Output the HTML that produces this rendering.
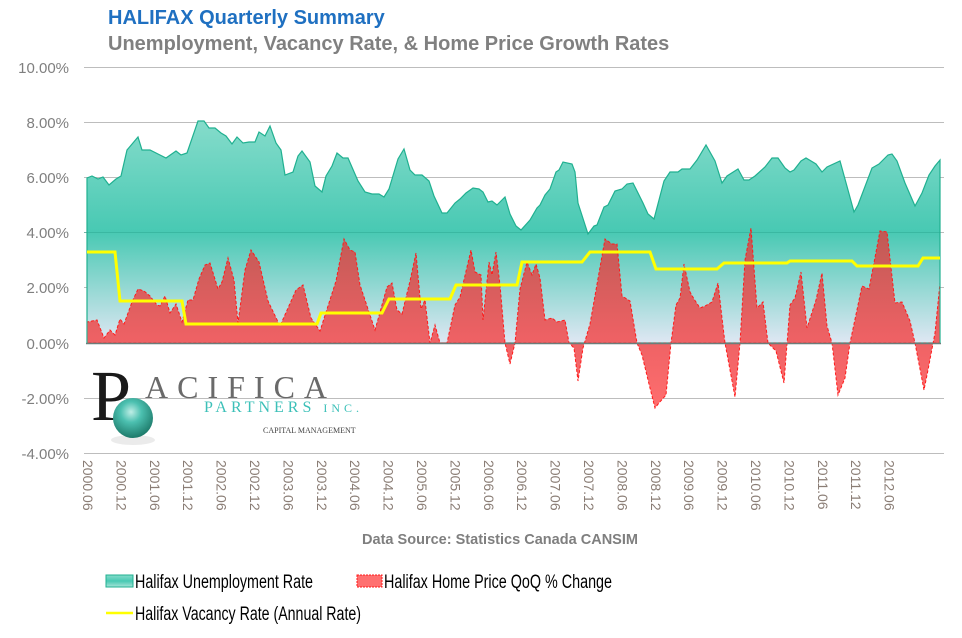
<!DOCTYPE html>
<html><head><meta charset="utf-8"><style>
html,body{margin:0;padding:0;background:#fff;}
svg{display:block;font-family:"Liberation Sans",Arial,sans-serif;}
</style></head><body>
<svg width="962" height="638" viewBox="0 0 962 638" xmlns="http://www.w3.org/2000/svg">
<defs>
<linearGradient id="gU" gradientUnits="userSpaceOnUse" x1="0" y1="120" x2="0" y2="343">
<stop offset="0" stop-color="#86dccb"/>
<stop offset="0.5" stop-color="#48c9b3"/>
<stop offset="1" stop-color="#dfe7f3"/>
</linearGradient>
<linearGradient id="gUL" x1="0" y1="0" x2="0" y2="1">
<stop offset="0" stop-color="#86dccb"/>
<stop offset="0.5" stop-color="#48c9b3"/>
<stop offset="1" stop-color="#a8e4d8"/>
</linearGradient>
<linearGradient id="gR" gradientUnits="userSpaceOnUse" x1="0" y1="230" x2="0" y2="410">
<stop offset="0" stop-color="#be5a55"/>
<stop offset="0.6" stop-color="#ee6164"/>
<stop offset="1" stop-color="#ff6f6f"/>
</linearGradient>
<radialGradient id="gS" cx="0.45" cy="0.35" r="0.65">
<stop offset="0" stop-color="#bfeee6"/>
<stop offset="0.4" stop-color="#4cc0b0"/>
<stop offset="1" stop-color="#1d7a6a"/>
</radialGradient>
</defs>
<text x="108" y="24" font-size="20" font-weight="bold" fill="#1f70c1">HALIFAX Quarterly  Summary</text>
<text x="108" y="50" font-size="20" font-weight="bold" fill="#808080">Unemployment, Vacancy Rate, &amp; Home Price Growth Rates</text>
<g stroke="#bdbdbd" stroke-width="1">
<line x1="84" y1="67.5" x2="944" y2="67.5"/>
<line x1="84" y1="122.5" x2="944" y2="122.5"/>
<line x1="84" y1="177.5" x2="944" y2="177.5"/>
<line x1="84" y1="232.5" x2="944" y2="232.5"/>
<line x1="84" y1="287.5" x2="944" y2="287.5"/>
<line x1="84" y1="398.5" x2="944" y2="398.5"/>
<line x1="84" y1="453.5" x2="944" y2="453.5"/>
</g>
<g font-size="15" fill="#7f7f7f" text-anchor="end">
<text x="69" y="73">10.00%</text>
<text x="69" y="128">8.00%</text>
<text x="69" y="183">6.00%</text>
<text x="69" y="238">4.00%</text>
<text x="69" y="293">2.00%</text>
<text x="69" y="349">0.00%</text>
<text x="69" y="404">-2.00%</text>
<text x="69" y="459">-4.00%</text>
</g>
<path fill="url(#gU)" stroke="#20b090" stroke-width="1.2" d="M87,343 L87,178 92,176 98,179 103,177 109,185 116,179 121,176 127,150 138,137 142,150 150,150 160,155 166,158 176,151 181,155 187,153 198,121 204,121 209,128 215,128 221,133 226,136 232,144 237,137 243,143 249,142 255,142 259,132 265,136 270,126 276,143 281,150 285,175 293,172 298,156 302,151 310,162 315,186 322,192 326,176 332,166 337,153 343,158 348,158 358,181 365,192 372,194 379,194 384,197 389,189 398,159 404,149 410,170 415,175 422,175 429,181 434,196 442,213 447,213 455,203 460,199 466,193 473,188 479,189 483,192 488,202 492,201 497,205 505,197 510,214 516,226 521,230 530,220 537,208 540,205 545,195 550,189 556,172 559,170 563,162 572,164 575,172 578,203 588,234 594,226 597,225 604,207 608,205 615,191 622,189 627,184 633,183 643,203 648,214 654,219 664,181 670,172 678,172 682,169 690,169 697,160 706,145 715,161 722,183 727,176 738,169 744,180 749,180 755,176 765,167 772,158 778,158 785,168 790,172 794,170 801,161 806,158 816,164 822,172 827,167 840,161 848,190 854,212 858,205 872,168 879,164 888,155 892,154 897,161 905,183 915,206 922,193 929,175 935,166 940,160 L940,343 Z"/>
<line x1="84" y1="232.5" x2="940" y2="232.5" stroke="#2aa88f" stroke-opacity="0.5"/>
<path fill="url(#gR)" stroke="#ff1a1a" stroke-width="1" stroke-dasharray="3,2" d="M87,343 L87,322 97,320 104,338 110,330 115,335 120,319 124,324 132,302 138,289 144,291 150,296 157,305 160,306 165,296 170,313 176,304 182,322 188,300 193,300 199,279 205,265 210,263 218,289 222,282 228,258 234,280 238,323 245,270 251,250 259,262 268,301 280,326 296,290 303,285 311,318 320,331 336,281 344,239 350,250 355,252 360,285 375,330 387,287 392,283 397,310 402,314 410,281 416,253 421,309 425,300 430,343 435,325 440,343 447,343 455,305 460,297 471,250 475,272 481,275 483,320 489,262 492,275 496,252 500,285 505,343 510,364 515,343 520,289 527,262 532,275 536,264 540,278 545,320 552,318 557,322 565,320 569,343 574,348 578,381 583,348 590,324 605,239 612,244 617,244 622,296 630,301 637,343 642,355 649,384 655,408 659,403 666,395 671,343 676,305 680,298 684,264 690,292 694,299 700,308 705,306 712,302 718,283 722,318 725,343 735,397 740,343 745,260 751,228 757,308 763,302 768,343 776,351 784,383 790,305 795,298 801,272 807,328 816,300 822,273 827,326 832,343 838,395 845,378 850,343 862,286 869,289 880,231 887,232 895,303 902,302 910,321 915,343 924,390 928,370 935,333 940,283 L940,343 Z"/>
<line x1="86" y1="343.5" x2="941" y2="343.5" stroke="#6b7d7a" stroke-width="1.5"/>
<line x1="87" y1="178" x2="87" y2="343" stroke="#20b090"/>
<line x1="940" y1="160" x2="940" y2="343" stroke="#20b090"/>
<polyline fill="none" stroke="#ffff00" stroke-width="3" points="87,252 115,252 120,301 182,301 186,324 317,324 321,313 382,313 389,299 450,299 456,285 517,285 522,262 582,262 590,252 650,252 656,269 717,269 724,263 787,263 790,261 852,261 857,266 918,266 923,258 940,258"/>
<text x="91" y="420" font-family="'Liberation Serif',serif" font-size="72" fill="#1a1a1a">P</text>
<text x="145" y="398" font-family="'Liberation Serif',serif" font-size="32" fill="#6a6a6a" letter-spacing="9">ACIFICA</text>
<text x="204" y="412" font-family="'Liberation Serif',serif" font-size="16" fill="#3cc0b8" letter-spacing="4">PARTNERS <tspan font-size="12">INC.</tspan></text>
<text x="263" y="433" font-family="'Liberation Serif',serif" font-size="8" fill="#444">CAPITAL MANAGEMENT</text>
<ellipse cx="133" cy="440" rx="22" ry="5" fill="#ddd" opacity="0.6"/>
<circle cx="133" cy="418" r="20" fill="url(#gS)"/>
<g font-size="14" fill="#8a7d75">
<text transform="translate(83,460) rotate(90)">2000.06</text>
<text transform="translate(116.4,460) rotate(90)">2000.12</text>
<text transform="translate(149.8,460) rotate(90)">2001.06</text>
<text transform="translate(183.2,460) rotate(90)">2001.12</text>
<text transform="translate(216.6,460) rotate(90)">2002.06</text>
<text transform="translate(250,460) rotate(90)">2002.12</text>
<text transform="translate(283.4,460) rotate(90)">2003.06</text>
<text transform="translate(316.8,460) rotate(90)">2003.12</text>
<text transform="translate(350.2,460) rotate(90)">2004.06</text>
<text transform="translate(383.6,460) rotate(90)">2004.12</text>
<text transform="translate(417,460) rotate(90)">2005.06</text>
<text transform="translate(450.4,460) rotate(90)">2005.12</text>
<text transform="translate(483.8,460) rotate(90)">2006.06</text>
<text transform="translate(517.2,460) rotate(90)">2006.12</text>
<text transform="translate(550.6,460) rotate(90)">2007.06</text>
<text transform="translate(584,460) rotate(90)">2007.12</text>
<text transform="translate(617.4,460) rotate(90)">2008.06</text>
<text transform="translate(650.8,460) rotate(90)">2008.12</text>
<text transform="translate(684.2,460) rotate(90)">2009.06</text>
<text transform="translate(717.6,460) rotate(90)">2009.12</text>
<text transform="translate(751,460) rotate(90)">2010.06</text>
<text transform="translate(784.4,460) rotate(90)">2010.12</text>
<text transform="translate(817.8,460) rotate(90)">2011.06</text>
<text transform="translate(851.2,460) rotate(90)">2011.12</text>
<text transform="translate(884.6,460) rotate(90)">2012.06</text>
</g>
<text x="362" y="544" font-size="15" font-weight="bold" fill="#7f7f7f" textLength="276" lengthAdjust="spacingAndGlyphs">Data Source: Statistics Canada CANSIM</text>
<rect x="106" y="575" width="27" height="12" fill="url(#gUL)" stroke="#20b090"/>
<text x="135" y="588" font-size="19" fill="#000" textLength="178" lengthAdjust="spacingAndGlyphs">Halifax Unemployment Rate</text>
<rect x="357" y="575" width="25" height="12" fill="#ff7070" stroke="#ff1a1a" stroke-dasharray="2,1"/>
<text x="384" y="588" font-size="19" fill="#000" textLength="228" lengthAdjust="spacingAndGlyphs">Halifax Home Price QoQ % Change</text>
<line x1="106" y1="613" x2="133" y2="613" stroke="#ffff00" stroke-width="2.5"/>
<text x="135" y="620" font-size="19" fill="#000" textLength="226" lengthAdjust="spacingAndGlyphs">Halifax Vacancy Rate (Annual Rate)</text>
</svg>
</body></html>
